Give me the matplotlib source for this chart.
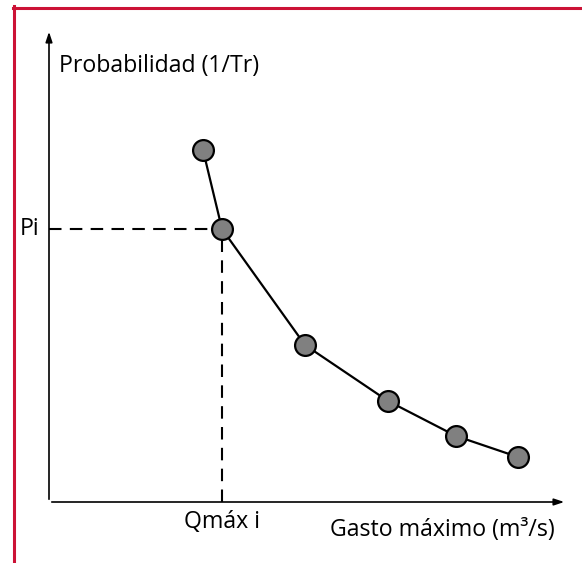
import matplotlib.pyplot as plt
from matplotlib.lines import Line2D

# Points (arbitrary units)
gasto = [15.4, 17.3, 25.6, 33.9, 40.7, 46.9]
prob = [35.2, 27.3, 15.7, 10.1, 6.6, 4.5]
i_sel = 1

x_label = "Gasto máximo (m³/s)"
y_label = "Probabilidad (1/Tr)"
pi_label = "Pi"
q_label = "Qmáx i"

plt.rcParams["font.family"] = ["Open Sans", "DejaVu Sans"]

fig = plt.figure(figsize=(5.82, 5.63), dpi=100)
ax = fig.add_axes([0, 0, 1, 1])
ax.set_xlim(-4.9, 53.3)
ax.set_ylim(-6.1, 50.2)
ax.axis("off")

# axes with arrows
ax.annotate("", xy=(51.8, 0), xytext=(0, 0),
            arrowprops=dict(arrowstyle="-|>,head_length=0.6,head_width=0.2", color="black", lw=1.2))
ax.annotate("", xy=(0, 47.3), xytext=(0, 0),
            arrowprops=dict(arrowstyle="-|>,head_length=0.6,head_width=0.2", color="black", lw=1.2))

# dashed guides to the selected point
qi, pi = gasto[i_sel], prob[i_sel]
ax.plot([0, qi], [pi, pi], color="black", lw=1.5, ls=(0, (6, 4)))
ax.plot([qi, qi], [0, pi], color="black", lw=1.5, ls=(0, (6, 4)))

ax.plot(gasto, prob, color="black", lw=1.6, marker="o", markersize=15,
        markerfacecolor="#808080", markeredgecolor="black", markeredgewidth=1.6, zorder=3)

fs = 16.7
ax.text(-2.9, pi, pi_label, fontsize=fs, ha="left", va="center")
ax.text(qi, -2.0, q_label, fontsize=fs, ha="center", va="center")
ax.text(1.0, 43.6, y_label, fontsize=fs, ha="left", va="center")
ax.text(50.6, -2.8, x_label, fontsize=fs, ha="right", va="center")

# red frame on the left and top
red = "#CC1236"
fig.add_artist(Line2D([14 / 582, 14 / 582], [0, 1 - 6 / 563], color=red, lw=2.2,
                      transform=fig.transFigure))
fig.add_artist(Line2D([13 / 582, 1], [1 - 7.5 / 563, 1 - 7.5 / 563], color=red, lw=2.2,
                      transform=fig.transFigure))

fig.savefig("out.png", dpi=100)
